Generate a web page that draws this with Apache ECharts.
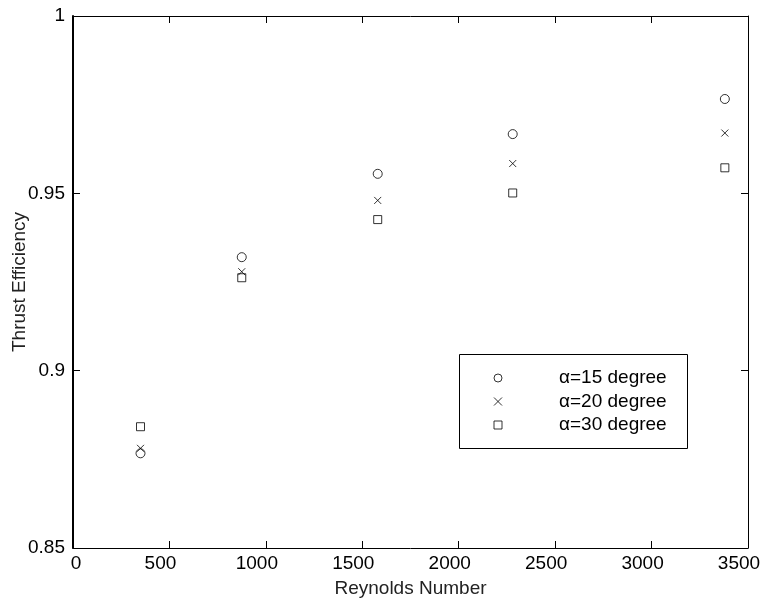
<!DOCTYPE html>
<html>
<head>
<meta charset="utf-8">
<script src="https://cdn.jsdelivr.net/npm/echarts@6/dist/echarts.min.js"></script>
<style>
  html, body { margin: 0; padding: 0; background: #fff; }
  #chart { width: 765px; height: 605px; }
</style>
</head>
<body>
<div id="chart"></div>
<script>
// Reynolds number of each test case
const reynolds = [350, 875, 1580, 2280, 3380];

// Thrust efficiency for each angle of attack
const eff15 = [0.8767, 0.9320, 0.9555, 0.9667, 0.9766];
const eff20 = [0.8781, 0.9279, 0.9480, 0.9584, 0.9670];
const eff30 = [0.8842, 0.9262, 0.9426, 0.9501, 0.9572];

const seriesNames = ['\u03b1=15 degree', '\u03b1=20 degree', '\u03b1=30 degree'];

const xTicks = [0, 500, 1000, 1500, 2000, 2500, 3000, 3500];
const yTicks = [0.85, 0.9, 0.95, 1];

const FONT = '"Liberation Sans", Arial, Helvetica, sans-serif';
const pairs = (ys) => reynolds.map((x, i) => [x, ys[i]]);

const chart = echarts.init(document.getElementById('chart'), null, { renderer: 'canvas' });

const baseAxis = {
  axisLine: { show: true, onZero: false, lineStyle: { color: '#000', width: 1 } },
  axisTick: { show: true, inside: true, length: 7, lineStyle: { color: '#000', width: 1 } },
  splitLine: { show: false },
};

const option = {
  backgroundColor: '#fff',
  animation: false,
  textStyle: { fontFamily: FONT },
  grid: { left: 73, right: 17, top: 16, bottom: 57, containLabel: false, outerBoundsMode: 'none' },
  xAxis: [
    Object.assign({}, baseAxis, {
      type: 'value', min: xTicks[0], max: xTicks[xTicks.length - 1], interval: 500,
      position: 'bottom',
      name: 'Reynolds Number', nameLocation: 'middle', nameGap: 31,
      nameTextStyle: { fontSize: 19, color: '#222', fontFamily: FONT, verticalAlign: 'top' },
      axisLabel: {
        fontSize: 19, color: '#000', margin: 6, fontFamily: FONT,
        // tick labels sit slightly left of their ticks; the zero label slightly right
        formatter: (v) => (v === 0 ? '{z|0}' : '{n|' + v + '}'),
        rich: {
          z: { fontSize: 19, color: '#000', fontFamily: FONT, padding: [0, 0, 0, 6] },
          n: { fontSize: 19, color: '#000', fontFamily: FONT, padding: [0, 18, 0, 0] },
        },
      },
    }),
    Object.assign({}, baseAxis, {
      type: 'value', min: xTicks[0], max: xTicks[xTicks.length - 1], interval: 500,
      position: 'top', axisLabel: { show: false },
    }),
  ],
  yAxis: [
    Object.assign({}, baseAxis, {
      type: 'value', min: yTicks[0], max: yTicks[yTicks.length - 1], interval: 0.05,
      position: 'left',
      axisLine: { show: true, onZero: false, lineStyle: { color: '#000', width: 2 } },
      name: 'Thrust Efficiency', nameLocation: 'middle', nameGap: 44, nameMoveOverlap: false,
      nameTextStyle: { fontSize: 19, color: '#222', fontFamily: FONT },
      axisLabel: {
        fontSize: 19, color: '#000', margin: 8, fontFamily: FONT,
        formatter: (v) => String(parseFloat(v.toFixed(2))),
      },
    }),
    Object.assign({}, baseAxis, {
      type: 'value', min: yTicks[0], max: yTicks[yTicks.length - 1], interval: 0.05,
      position: 'right', axisLabel: { show: false },
    }),
  ],
  graphic: [
    {
      type: 'rect', z: 10,
      shape: { x: 459.5, y: 354.5, width: 228, height: 94 },
      style: { fill: '#fff', stroke: '#000', lineWidth: 1 },
    },
  ],
  legend: {
    z: 20,
    orient: 'vertical',
    left: 493.5, top: 368, padding: 0,
    itemWidth: 8, itemHeight: 8, itemGap: 3.5,
    selectedMode: false,
    data: seriesNames,
    itemStyle: { borderWidth: 1, borderColor: '#000', color: 'rgba(0,0,0,0)' },
    textStyle: { fontSize: 19, color: '#000', fontFamily: FONT, lineHeight: 20, padding: [0, 0, 0, 52] },
  },
  series: [
    {
      name: seriesNames[0], type: 'scatter', xAxisIndex: 0, yAxisIndex: 0,
      symbol: 'circle', symbolSize: 9,
      itemStyle: { color: 'rgba(0,0,0,0)', borderColor: '#000', borderWidth: 1 },
      data: pairs(eff15),
    },
    {
      name: seriesNames[1], type: 'scatter', xAxisIndex: 0, yAxisIndex: 0,
      symbol: 'path://M0,0L10,10M10,0L0,10', symbolSize: 7,
      itemStyle: { color: 'rgba(0,0,0,0)', borderColor: '#000', borderWidth: 1 },
      data: pairs(eff20),
    },
    {
      name: seriesNames[2], type: 'scatter', xAxisIndex: 0, yAxisIndex: 0,
      symbol: 'rect', symbolSize: 8,
      itemStyle: { color: 'rgba(0,0,0,0)', borderColor: '#000', borderWidth: 1 },
      data: pairs(eff30),
    },
  ],
};

chart.setOption(option);
</script>
</body>
</html>
